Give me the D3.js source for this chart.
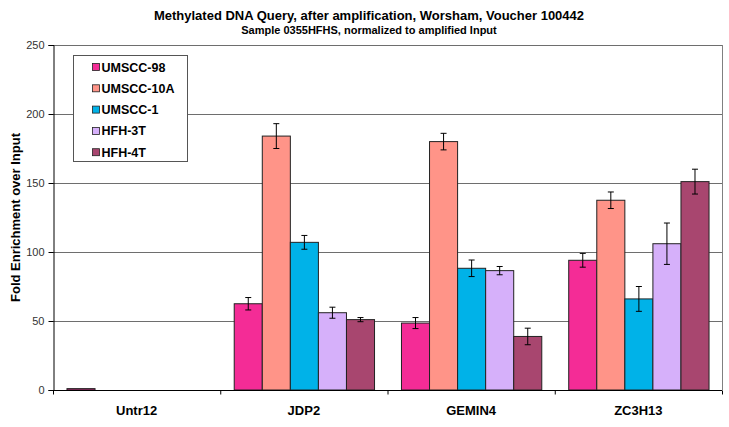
<!DOCTYPE html>
<html>
<head>
<meta charset="utf-8">
<script src="https://cdn.jsdelivr.net/npm/d3@7"></script>
<style>
body { margin: 0; background: #fff; }
svg { display: block; font-family: Arial, "Liberation Sans", sans-serif; }
</style>
</head>
<body>
<svg id="chart" width="729" height="427"></svg>
<script>
const categories = ["Untr12", "JDP2", "GEMIN4", "ZC3H13"];
const seriesNames = ["UMSCC-98", "UMSCC-10A", "UMSCC-1", "HFH-3T", "HFH-4T"];
const seriesColors = ["#F42C96", "#FF9488", "#00B2E8", "#D6B0FA", "#A8466F"];
// values per series, in category order
const umscc98 = [1, 62.5, 48.5, 94];
const umscc10a = [0, 184, 180, 137.5];
const umscc1 = [0, 107, 88.2, 66];
const hfh3t = [0, 56, 86.5, 106];
const hfh4t = [0, 51, 38.8, 151];
// error bar half-widths
const err98 = [0, 4.5, 4, 5];
const err10a = [0, 9, 6, 6];
const err1 = [0, 5, 6, 9];
const err3t = [0, 4, 3, 15];
const err4t = [0, 1.5, 6, 9];
const yTicks = [0, 50, 100, 150, 200, 250];
const title = "Methylated DNA Query, after amplification, Worsham, Voucher 100442";
const subtitle = "Sample 0355HFHS, normalized to amplified Input";
const yLabel = "Fold Enrichment over Input";

const values = [umscc98, umscc10a, umscc1, hfh3t, hfh4t];
const errors = [err98, err10a, err1, err3t, err4t];

const svg = d3.select("#chart");
const pL = 53, pR = 722, pT = 45, pB = 390;

const x = d3.scaleBand().domain(categories).range([pL, pR]).paddingInner(0).paddingOuter(0);
const xs = d3.scaleBand().domain(seriesNames).range([0, x.bandwidth()]).paddingOuter(0.48).paddingInner(0);
const y = d3.scaleLinear().domain([0, 250]).range([pB, pT]);

// title
svg.append("text").attr("x", 369).attr("y", 20).attr("text-anchor", "middle")
  .attr("font-size", 13).attr("font-weight", "bold").attr("fill", "#000").text(title);
svg.append("text").attr("x", 369).attr("y", 34).attr("text-anchor", "middle")
  .attr("font-size", 11).attr("font-weight", "bold").attr("fill", "#000").text(subtitle);

// gridlines
svg.append("g").selectAll("line").data(yTicks.filter(d => d > 0)).join("line")
  .attr("x1", pL).attr("x2", pR)
  .attr("y1", d => y(d) + 0.5).attr("y2", d => y(d) + 0.5)
  .attr("stroke", "#6e6e6e").attr("stroke-width", 1.2);

// right border
svg.append("line").attr("x1", pR + 0.5).attr("x2", pR + 0.5).attr("y1", pT).attr("y2", pB)
  .attr("stroke", "#808080").attr("stroke-width", 1);

// bars
const groups = svg.append("g").selectAll("g").data(categories).join("g")
  .attr("transform", d => `translate(${x(d)},0)`);
groups.each(function(cat, ci) {
  const g = d3.select(this);
  seriesNames.forEach((s, si) => {
    const v = values[si][ci];
    if (v <= 0) return;
    g.append("rect")
      .attr("x", xs(s) + 0.5).attr("width", xs.bandwidth())
      .attr("y", y(v)).attr("height", y(0) - y(v))
      .attr("fill", seriesColors[si]).attr("stroke", "#222").attr("stroke-width", 1);
  });
  seriesNames.forEach((s, si) => {
    const v = values[si][ci], e = errors[si][ci];
    if (v <= 0 || e <= 0) return;
    const cx = xs(s) + xs.bandwidth() / 2 + 0.5;
    g.append("line").attr("x1", cx).attr("x2", cx).attr("y1", y(v + e)).attr("y2", y(v - e))
      .attr("stroke", "#000").attr("stroke-width", 1);
    [v + e, v - e].forEach(t => {
      g.append("line").attr("x1", cx - 3).attr("x2", cx + 3).attr("y1", y(t)).attr("y2", y(t))
        .attr("stroke", "#000").attr("stroke-width", 1);
    });
  });
});

// y axis
const yAxis = d3.axisLeft(y).tickValues(yTicks).tickSize(5).tickPadding(4);
const ya = svg.append("g").attr("transform", `translate(${pL + 0.5},0)`).call(yAxis);
ya.select(".domain").attr("stroke", "#000");
ya.selectAll(".tick line").attr("stroke", "#000");
ya.selectAll("text").attr("font-size", 11).attr("fill", "#333").attr("font-family", "Arial, 'Liberation Sans', sans-serif");

// x axis
const xa = svg.append("g").attr("transform", `translate(0,${pB + 0.5})`);
xa.append("line").attr("x1", pL).attr("x2", pR).attr("stroke", "#000");
xa.selectAll("line.tk").data(d3.range(categories.length + 1)).join("line").attr("class", "tk")
  .attr("x1", i => pL + i * x.step() + 0.5).attr("x2", i => pL + i * x.step() + 0.5)
  .attr("y1", 0).attr("y2", 4).attr("stroke", "#000");
xa.selectAll("text").data(categories).join("text")
  .attr("x", d => x(d) + x.bandwidth() / 2).attr("y", 24).attr("text-anchor", "middle")
  .attr("font-size", 13).attr("font-weight", "bold").attr("fill", "#000").text(d => d);

// y label
svg.append("text").attr("transform", `translate(20,${(pT + pB) / 2}) rotate(-90)`)
  .attr("text-anchor", "middle").attr("font-size", 13).attr("font-weight", "bold").attr("fill", "#000").text(yLabel);

// legend
const lg = svg.append("g");
lg.append("rect").attr("x", 73.5).attr("y", 55.5).attr("width", 114).attr("height", 106)
  .attr("fill", "#fff").attr("stroke", "#555").attr("stroke-width", 1);
seriesNames.forEach((s, i) => {
  const yy = 67 + i * 21.3;
  lg.append("rect").attr("x", 92.5).attr("y", yy - 3.5).attr("width", 7).attr("height", 7)
    .attr("fill", seriesColors[i]).attr("stroke", "#222").attr("stroke-width", 0.8);
  lg.append("text").attr("x", 101.5).attr("y", yy + 4.5).attr("font-size", 12.5).attr("font-weight", "bold")
    .attr("fill", "#000").text(s);
});
</script>
</body>
</html>
